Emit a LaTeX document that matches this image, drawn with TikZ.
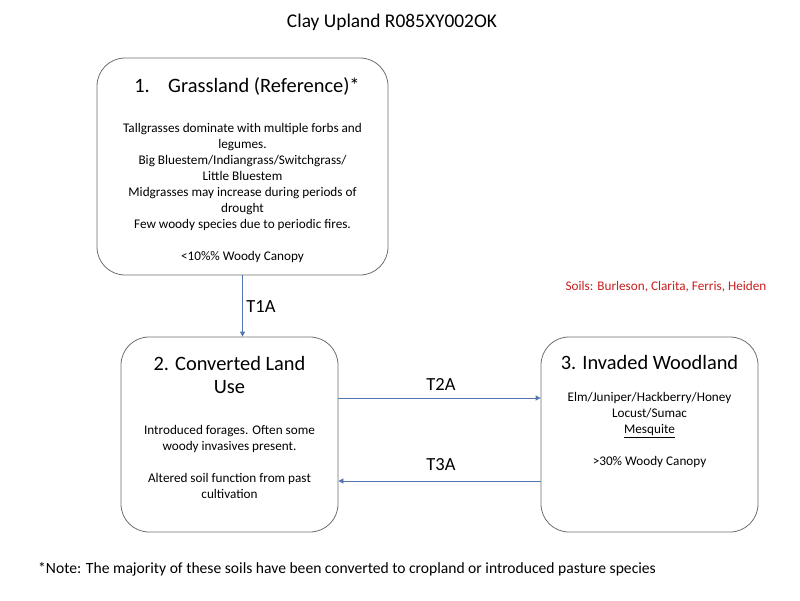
\documentclass[tikz,border=0pt]{standalone}
\usepackage{fontspec}
\setmainfont{Carlito}
\usetikzlibrary{arrows.meta}
\definecolor{boxgray}{RGB}{110,110,110}
\definecolor{arrblue}{RGB}{84,118,176}
\definecolor{soilred}{RGB}{200,30,30}
\begin{document}
\begin{tikzpicture}[x=1pt,y=-1pt,
	state/.style={draw=boxgray, line width=0.8pt, rounded corners=28pt, minimum width=#1},
	arr/.style={draw=arrblue, line width=0.8pt, -{Triangle[width=5pt,length=5pt]}},
	head/.style={font=\fontsize{20.4}{23}\selectfont, align=center, inner sep=0pt},
	body/.style={font=\fontsize{13.2}{16}\selectfont, align=center, inner sep=0pt},
	trans/.style={font=\fontsize{18.5}{20}\selectfont, inner sep=0pt}]
	\useasboundingbox (0,0) rectangle (800,600);
	
	%Title
	\node[font=\fontsize{19.4}{22}\selectfont] (title) at (392,22) {Clay Upland R085XY002OK};
	
	%State 1
	\node[state=291pt, minimum height=217pt] (s1) at (242.5,166.5) {};
	\node[head] (h1) at (247,86) {1.\hspace{0.9em}Grassland (Reference)*};
	\node[body] (b1) at (242.5,193) {Tallgrasses dominate with multiple forbs and\\ legumes.\\ Big Bluestem/Indiangrass/Switchgrass/\\ Little Bluestem\\ Midgrasses may increase during periods of\\ drought\\ Few woody species due to periodic fires.\\[16pt] {<}10\%\% Woody Canopy};
	
	%State 2
	\node[state=217pt, minimum height=195pt] (s2) at (229.5,434.5) {};
	\node[head] (h2) at (229.5,374.5) {2. Converted Land\\ Use};
	\node[body] (b2) at (229.5,462) {Introduced forages. Often some\\ woody invasives present.\\[16pt] Altered soil function from past\\ cultivation};
	
	%State 3
	\node[state=217pt, minimum height=195pt] (s3) at (649.5,434.5) {};
	\node[head] (h3) at (649.5,362) {3. Invaded Woodland};
	\node[body] (b3) at (649.5,430) {Elm/Juniper/Hackberry/Honey\\ Locust/Sumac\\ \underline{Mesquite}\\[16pt] {>}30\% Woody Canopy};
	
	%Transitions
	\draw[arr] (s1.south) -- (s1.south |- s2.north);
	\node[trans] (t1a) at (261,307) {T1A};
	\draw[arr] ([yshift=36.5pt]s2.east) -- ([yshift=36.5pt]s3.west);
	\node[trans] (t2a) at (441,384) {T2A};
	\draw[arr] ([yshift=-46.5pt]s3.west) -- ([yshift=-46.5pt]s2.east);
	\node[trans] (t3a) at (441,465) {T3A};
	
	%Soils and note
	\node[font=\fontsize{13.2}{15}\selectfont, text=soilred] (soils) at (666,287) {Soils: Burleson, Clarita, Ferris, Heiden};
	\node[font=\fontsize{15.6}{18}\selectfont, anchor=west, inner sep=0pt] (note) at (38,569) {*Note: The majority of these soils have been converted to cropland or introduced pasture species};
\end{tikzpicture}
\end{document}
